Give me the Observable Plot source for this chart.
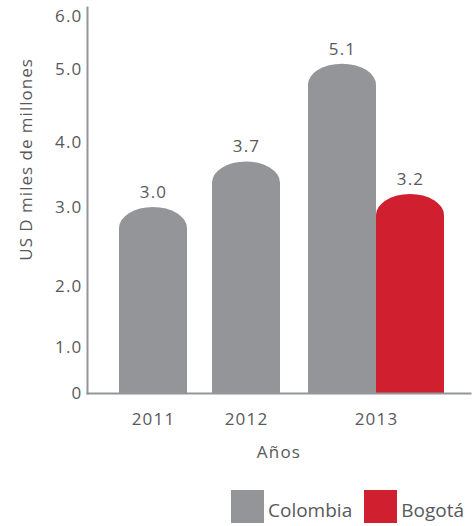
<!DOCTYPE html>
<html>
<head>
<meta charset="utf-8">
<script src="https://cdn.jsdelivr.net/npm/d3@7"></script>
<script src="https://cdn.jsdelivr.net/npm/@observablehq/plot@0.6"></script>
<style>
  html, body { margin: 0; padding: 0; background: #fff; }
  body { font-family: "Open Sans", sans-serif; color: #58595b; width: 472px; height: 526px; overflow: hidden; }
  #chart svg { display: block; }
  #chart svg text { letter-spacing: 1.2px; }
  #chart svg .ytitle text { letter-spacing: 1px; }
  .lg-swatches { margin-left: 231px !important; margin-top: 20px !important; font-family: "Open Sans", sans-serif !important; font-size: 19px !important; color: #58595b; flex-wrap: nowrap !important; white-space: nowrap; }
  .lg-swatch { margin-right: 12px !important; align-items: flex-end !important; }
  .lg-swatch > svg { margin-right: 4px !important; }
</style>
</head>
<body>
<div id="chart"></div>
<script>
// ---- data ----
const years = [2011, 2012, 2013];
const series = ["Colombia", "Bogotá"];
const colombia = [3.0, 3.7, 5.1];
const bogota = [null, null, 3.2];
const yTicks = [0, 1, 2, 3, 4, 5, 6];
const yTitle = "US D miles de millones";
const xTitle = "Años";
const colors = ["#939598", "#d01f2e"];

// tidy table built from the arrays
const data = [];
years.forEach((yr, i) => {
  if (colombia[i] != null) data.push({year: yr, series: "Colombia", value: colombia[i]});
  if (bogota[i] != null) data.push({year: yr, series: "Bogotá", value: bogota[i]});
});
const paired = new Set(data.filter(d => d.series === "Bogotá").map(d => d.year));

const half = 34;      // half bar width (px)
const textColor = "#58595b";

function barGroup(sub, dx) {
  return [
    Plot.rect(sub, {x1: "year", x2: "year", y1: 0, y2: "value", fill: "series",
      insetLeft: -half, insetRight: -half, rx: half, ry: 21, dx}),
    Plot.rect(sub, {x1: "year", x2: "year", y1: 0, y2: d => d.value / 2, fill: "series",
      insetLeft: -half, insetRight: -half, dx}),
    Plot.text(sub, {x: "year", y: "value", text: d => d.value.toFixed(1), dy: -15, dx,
      fontSize: 17, fill: textColor})
  ];
}

const single = data.filter(d => !paired.has(d.year));
const pairL = data.filter(d => paired.has(d.year) && d.series === "Colombia");
const pairR = data.filter(d => paired.has(d.year) && d.series === "Bogotá");

const chart = Plot.plot({
  width: 472,
  height: 470,
  marginLeft: 87,
  marginRight: 2,
  marginTop: 7,
  marginBottom: 77,
  style: {fontFamily: "Open Sans, sans-serif", fontSize: "17px", color: textColor, background: "#fff"},
  x: {type: "linear", domain: years, range: [153, 246, 376]},
  y: {type: "linear", domain: yTicks, range: [393, 347, 286, 207, 142, 69, 16]},
  color: {domain: series, range: colors},
  marks: [
    ...barGroup(single, 0),
    ...barGroup(pairL, -half),
    ...barGroup(pairR, half),
    Plot.frame({anchor: "left", stroke: "#939598", strokeWidth: 2}),
    Plot.frame({anchor: "bottom", stroke: "#939598", strokeWidth: 2}),
    Plot.axisY({ticks: yTicks, tickSize: 0, tickPadding: 5, label: null,
      tickFormat: d => d === 0 ? "0" : d.toFixed(1), fill: textColor}),
    Plot.axisX({ticks: years, tickSize: 0, tickPadding: 19, label: null,
      tickFormat: d => String(d), fill: textColor}),
    Plot.text([yTitle], {frameAnchor: "left", textAnchor: "middle", lineAnchor: "middle",
      rotate: -90, dx: -61, dy: -41, fontSize: 17, fill: textColor, className: "ytitle"}),
    Plot.text([xTitle], {frameAnchor: "bottom", lineAnchor: "middle", dy: 59, fontSize: 17, fill: textColor})
  ]
});

const legend = Plot.legend({color: {domain: series, range: colors}, swatchSize: 33, className: "lg"});

const root = document.getElementById("chart");
root.append(chart);
root.append(legend);
</script>
</body>
</html>
